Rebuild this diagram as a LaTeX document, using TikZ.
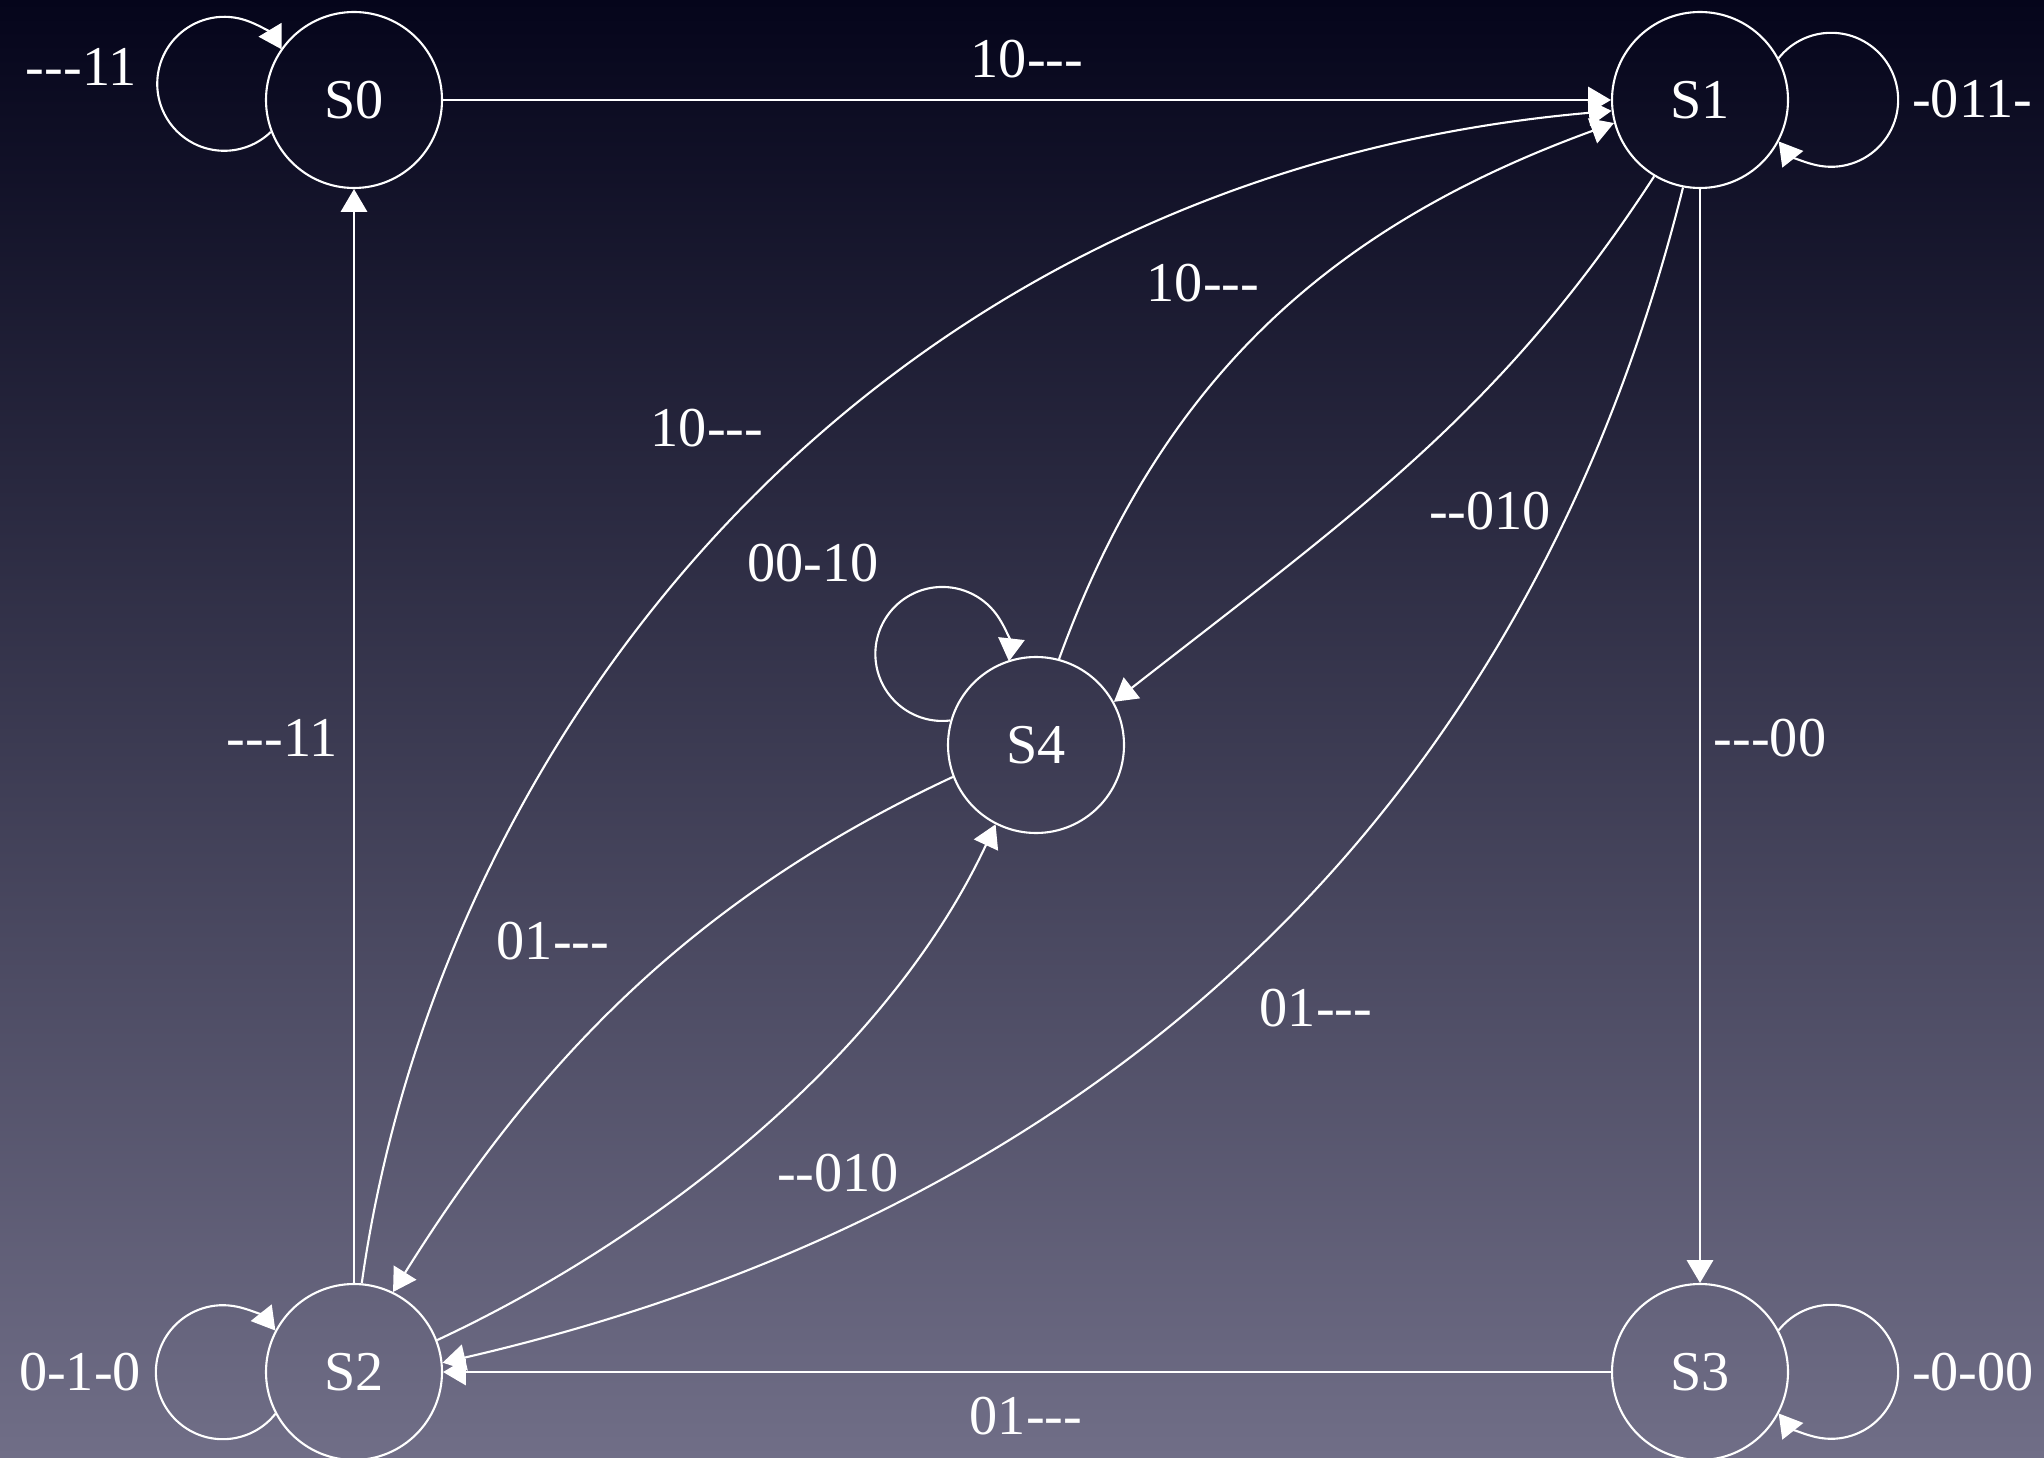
\documentclass[tikz,border=0pt]{standalone}
\usepackage{fontspec}
\setmainfont{Liberation Serif}[Ligatures=TeXOff]
\usetikzlibrary{arrows.meta}
\definecolor{bgtop}{RGB}{5,5,27}
\definecolor{bgbot}{RGB}{112,110,135}

\begin{document}
\begin{tikzpicture}[
  font=\fontsize{16}{19}\selectfont,
  state/.style={circle, draw=white, line width=0.6pt, minimum size=1.76cm, inner sep=0pt, text=white},
  lbl/.style={text=white, inner sep=0pt},
  trans/.style={draw=white, line width=0.6pt, -{Triangle[length=6.5pt,width=7.5pt]}}
]
\shade[top color=bgtop, bottom color=bgbot] (0,0) rectangle (20.44,14.57);
\useasboundingbox (0,0) rectangle (20.44,14.57);

\node[state] (s0) at (3.54,13.57) {S0};
\node[state] (s1) at (17.00,13.57) {S1};
\node[state] (s2) at (3.54,0.85) {S2};
\node[state] (s3) at (17.00,0.85) {S3};
\node[state] (s4) at (10.36,7.12) {S4};

\draw[trans] (s0) -- (s1);
\draw[trans] (s2) -- (s0);
\draw[trans] (s1) -- (s3);
\draw[trans] (s3) -- (s2);
\draw[trans] (s2.85) to[out=82, in=185, out distance=5.5cm, in distance=7.5cm] (s1.187);
\draw[trans] (s4.75) to[out=70, in=200, distance=3cm] (s1.195);
\draw[trans] (s1.239) to[out=237, in=38, out distance=2.8cm, in distance=3.1cm] (s4.29);
\draw[trans] (s1.259) to[out=256, in=13, distance=6.6cm] (s2.6);
\draw[trans] (s4.201) to[out=205, in=58, distance=2.8cm] (s2.64);
\draw[trans] (s2.21) to[out=25, in=245, distance=2.5cm] (s4.243);

\draw[trans] (s0.201) arc[start angle=314.1, end angle=30.9, radius=0.67];
\draw[trans] (s1.28) arc[start angle=141.6, end angle=-141.6, radius=0.67];
\draw[trans] (s2.208) arc[start angle=321.6, end angle=38.4, radius=0.67];
\draw[trans] (s3.28) arc[start angle=141.6, end angle=-141.6, radius=0.67];
\draw[trans] (s4.164) arc[start angle=276.9, end angle=-6.3, radius=0.67];

\node[lbl] (l01) at (10.27,13.98) {10---};
\node[lbl] (l20) at (2.82,7.19) {---11};
\node[lbl] (l13) at (17.70,7.19) {---00};
\node[lbl] (l32) at (10.26,0.41) {01---};
\node[lbl] (l21) at (7.07,10.29) {10---};
\node[lbl] (l41) at (12.03,11.74) {10---};
\node[lbl] (l14) at (14.90,9.46) {--010};
\node[lbl] (l12) at (13.16,4.49) {01---};
\node[lbl] (l42) at (5.53,5.16) {01---};
\node[lbl] (l24) at (8.38,2.84) {--010};
\node[lbl] (l44) at (8.13,8.94) {00-10};
\node[lbl] (l00) at (0.81,13.90) {---11};
\node[lbl] (l11) at (19.72,13.58) {-011-};
\node[lbl] (l22) at (0.80,0.85) {0-1-0};
\node[lbl] (l33) at (19.73,0.85) {-0-00};
\end{tikzpicture}
\end{document}
